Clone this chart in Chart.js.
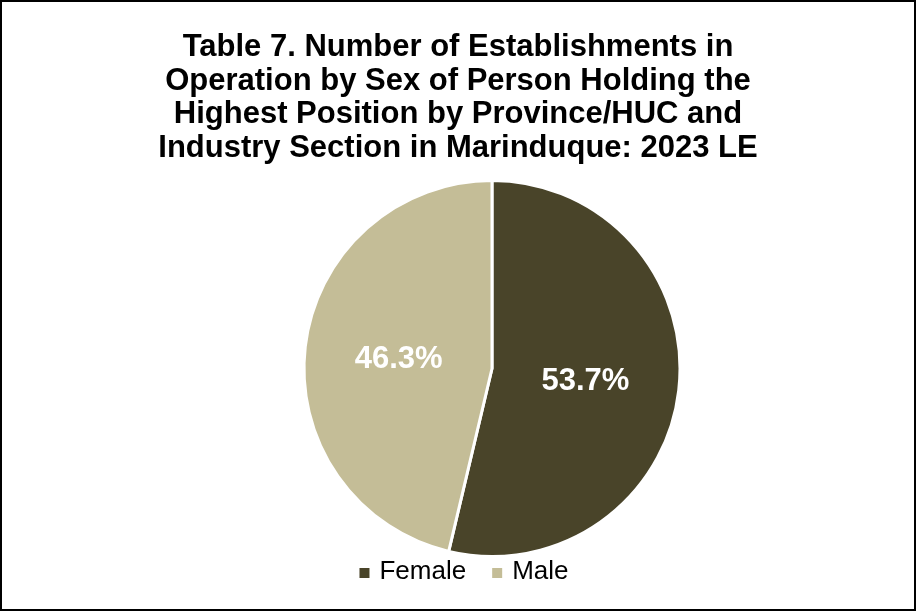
<!DOCTYPE html>
<html>
<head>
<meta charset="utf-8">
<script src="https://cdn.jsdelivr.net/npm/chart.js@4"></script>
<style>
  html, body { margin: 0; padding: 0; background: #fff; }
  #box { width: 916px; height: 611px; box-sizing: border-box; border: 2px solid #000; position: relative; }
  #box canvas { display: block; }
</style>
</head>
<body>
<div id="box"><canvas id="pie" width="912" height="607"></canvas></div>
<script>
const categories = ["Female", "Male"];
const shares = [53.7, 46.3];
const sliceColors = ["#494429", "#C4BD97"];
const titleLines = [
    "Table 7. Number of Establishments in",
    "Operation by Sex of Person Holding the",
    "Highest Position by Province/HUC and",
    "Industry Section in Marinduque: 2023 LE"
];

const FONT = "'Liberation Sans', Arial, sans-serif";

// title, legend and percent labels drawn by hand so the pie can sit off-centre
const decorations = {
    id: "decorations",
    afterDraw(chart) {
        const ctx = chart.ctx;
        const midX = chart.width / 2;
        ctx.save();

        // title
        ctx.fillStyle = "#000";
        ctx.textAlign = "center";
        ctx.textBaseline = "alphabetic";
        ctx.font = "bold 31px " + FONT;
        titleLines.forEach(function (line, i) {
            ctx.fillText(line, midX, 54 + i * 33.6);
        });

        // percent labels
        const meta = chart.getDatasetMeta(0);
        ctx.font = "bold 31px " + FONT;
        ctx.fillStyle = "#fff";
        ctx.textBaseline = "middle";
        meta.data.forEach(function (arc, i) {
            const p = arc.tooltipPosition();
            ctx.fillText(shares[i].toFixed(1) + "%", p.x, p.y + 2);
        });

        // legend
        ctx.font = "26px " + FONT;
        ctx.textAlign = "left";
        ctx.textBaseline = "alphabetic";
        const box = 10, gapText = 10, gapItem = 26;
        const widths = categories.map(function (c) { return ctx.measureText(c).width; });
        let total = 0;
        widths.forEach(function (w, i) {
            total += box + gapText + w + (i < widths.length - 1 ? gapItem : 0);
        });
        let x = 462 - total / 2;
        const base = 577;
        categories.forEach(function (c, i) {
            ctx.fillStyle = sliceColors[i];
            ctx.fillRect(x, base - 11, box, box);
            ctx.fillStyle = "#000";
            ctx.fillText(c, x + box + gapText, base);
            x += box + gapText + widths[i] + gapItem;
        });

        ctx.restore();
    }
};

const data = {
    labels: categories,
    datasets: [
        {
            data: shares,
            backgroundColor: sliceColors,
            borderColor: "#fff",
            borderWidth: 3,
        },
    ],
};

const config = {
    type: "pie",
    data,
    options: {
        responsive: false,
        animation: false,
        layout: { padding: { top: 177, bottom: 51, left: 68, right: 0 } },
        plugins: {
            title: { display: false },
            legend: { display: false },
            tooltip: { enabled: false },
        },
    },
    plugins: [decorations],
};

const pieCanvas = document.getElementById("pie");
const myPie = new Chart(pieCanvas, config);
</script>
</body>
</html>
